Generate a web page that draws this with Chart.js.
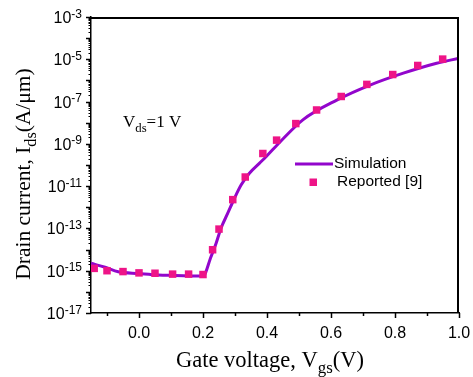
<!DOCTYPE html>
<html>
<head>
<meta charset="utf-8">
<script src="https://cdn.jsdelivr.net/npm/chart.js@4/dist/chart.umd.min.js"></script>
<style>
  html, body { margin: 0; padding: 0; background: #fff; }
  #wrap { width: 473px; height: 377px; }
</style>
</head>
<body>
<div id="wrap"><canvas id="idsChart" width="473" height="377"></canvas></div>
<script>
// simulated transfer curve, Vgs (V) vs Ids (A/um)
const simVgs = [-0.15, -0.106, -0.065, 0.0, 0.06, 0.1, 0.2, 0.225, 0.241, 0.256, 0.277, 0.298, 0.319, 0.345, 0.376, 0.397, 0.44, 0.513, 0.618, 0.722, 0.826, 0.93, 1.0];
const simIds = [2.24e-15, 1.45e-15, 8.9e-16, 7.4e-16, 6.3e-16, 6.0e-16, 5.6e-16, 4.6e-15, 2.0e-14, 1.0e-13, 5.1e-13, 2.6e-12, 1.12e-11, 4.1e-11, 1.2e-10, 2.45e-10, 1.2e-9, 1.4e-8, 1.17e-7, 6.0e-7, 2.2e-6, 6.5e-6, 1.12e-5];

// reported data points [9]
const refVgs = [-0.14, -0.10, -0.05, 0.0, 0.05, 0.105, 0.155, 0.20, 0.23, 0.25, 0.293, 0.332, 0.387, 0.43, 0.49, 0.555, 0.632, 0.712, 0.793, 0.871, 0.949];
const refIds = [1.29e-15, 1.0e-15, 9.1e-16, 7.9e-16, 7.6e-16, 6.9e-16, 6.9e-16, 6.6e-16, 9.8e-15, 9.3e-14, 2.3e-12, 2.7e-11, 3.5e-10, 1.5e-9, 9.1e-9, 4.0e-8, 1.74e-7, 6.5e-7, 1.9e-6, 5.1e-6, 1.02e-5];

// axis ticks
const xMajorTicks = [0.0, 0.2, 0.4, 0.6, 0.8, 1.0];
const xMinorTicks = [-0.1, 0.1, 0.3, 0.5, 0.7, 0.9];
const yDecades = [-17, -16, -15, -14, -13, -12, -11, -10, -9, -8, -7, -6, -5, -4, -3];
const yLabelExps = [-17, -15, -13, -11, -9, -7, -5, -3];

const LINE_COLOR = '#9206cc';
const MARK_COLOR = '#ee1487';
const SANS = '"Liberation Sans", Arial, sans-serif';
const SERIF = '"Liberation Serif", "Times New Roman", serif';

// text with a subscript piece: parts = [[text, isSub], ...]
function drawRich(ctx, parts, x, y, size, family) {
    let cx = x;
    parts.forEach(([txt, sub]) => {
        const fs = sub ? size * 0.75 : size;
        ctx.font = fs + 'px ' + family;
        ctx.fillText(txt, cx, sub ? y + size * 0.28 : y);
        cx += ctx.measureText(txt).width;
    });
    return cx - x;
}
function richWidth(ctx, parts, size, family) {
    let w = 0;
    parts.forEach(([txt, sub]) => {
        ctx.font = (sub ? size * 0.75 : size) + 'px ' + family;
        w += ctx.measureText(txt).width;
    });
    return w;
}

const decorPlugin = {
    id: 'decor',
    afterDraw(chart) {
        const ctx = chart.ctx;
        const ca = chart.chartArea;
        const xs = chart.scales.x;
        const ys = chart.scales.y;
        ctx.save();
        ctx.setLineDash([]);
        ctx.strokeStyle = '#000';
        ctx.fillStyle = '#000';

        // closing box on top and right
        ctx.lineWidth = 2;
        ctx.beginPath();
        ctx.moveTo(ca.left, ca.top + 1);
        ctx.lineTo(ca.right - 1, ca.top + 1);
        ctx.lineTo(ca.right - 1, ca.bottom);
        ctx.stroke();

        // y ticks, log decades with minor 2..9
        yDecades.forEach(n => {
            for (let k = 1; k <= 9; k++) {
                if (n === -3 && k > 1) break;
                const py = Math.round(ys.getPixelForValue(k * Math.pow(10, n))) + 0.5;
                const len = k === 1 ? 5 : 2.5;
                ctx.lineWidth = k === 1 ? 1.5 : 1;
                ctx.beginPath();
                ctx.moveTo(ca.left, py);
                ctx.lineTo(ca.left - len, py);
                ctx.stroke();
            }
        });

        // y labels 10^n
        ctx.textAlign = 'left';
        ctx.textBaseline = 'alphabetic';
        yLabelExps.forEach(n => {
            const py = ys.getPixelForValue(Math.pow(10, n));
            const exp = String(n);
            ctx.font = '12px ' + SANS;
            const ew = ctx.measureText(exp).width;
            ctx.font = '16px ' + SANS;
            const bw = ctx.measureText('10').width;
            const right = 82;
            ctx.fillText('10', right - ew - bw, py + 6);
            ctx.font = '12px ' + SANS;
            ctx.fillText(exp, right - ew, py + 0.5);
        });

        // x ticks
        ctx.lineWidth = 1.5;
        xMajorTicks.concat(xMinorTicks).forEach(v => {
            const px = Math.round(xs.getPixelForValue(v)) + 0.5;
            const len = xMajorTicks.includes(v) ? 5 : 3;
            ctx.beginPath();
            ctx.moveTo(px, ca.bottom);
            ctx.lineTo(px, ca.bottom + len);
            ctx.stroke();
        });
        ctx.font = '16px ' + SANS;
        ctx.textAlign = 'center';
        xMajorTicks.forEach(v => {
            ctx.fillText(v.toFixed(1), xs.getPixelForValue(v), 338);
        });

        // axis titles
        ctx.textAlign = 'left';
        const xTitle = [['Gate voltage, V', false], ['gs', true], ['(V)', false]];
        const xw = richWidth(ctx, xTitle, 22.5, SERIF);
        drawRich(ctx, xTitle, 270 - xw / 2, 367, 22.5, SERIF);

        const yTitle = [['Drain current, I', false], ['ds', true], ['(A/\u03bcm)', false]];
        const yw = richWidth(ctx, yTitle, 21.5, SERIF);
        ctx.save();
        ctx.translate(30, 174);
        ctx.rotate(-Math.PI / 2);
        drawRich(ctx, yTitle, -yw / 2, 0, 21.5, SERIF);
        ctx.restore();

        // bias annotation
        drawRich(ctx, [['V', false], ['ds', true], ['=1 V', false]], 123, 127, 17, SERIF);

        // legend
        ctx.strokeStyle = LINE_COLOR;
        ctx.lineWidth = 3;
        ctx.beginPath();
        ctx.moveTo(295, 164);
        ctx.lineTo(333, 164);
        ctx.stroke();
        ctx.fillStyle = MARK_COLOR;
        ctx.fillRect(309.5, 178.5, 7.5, 7.5);
        ctx.fillStyle = '#000';
        ctx.font = '15.5px ' + SANS;
        ctx.textBaseline = 'middle';
        ctx.fillText('Simulation', 334, 164);
        ctx.fillText('Reported [9]', 337, 182);
        ctx.restore();
    }
};

new Chart(document.getElementById('idsChart'), {
    type: 'scatter',
    data: {
        datasets: [
            {
                label: 'Reported [9]',
                data: refVgs.map((v, i) => ({ x: v, y: refIds[i] })),
                pointStyle: 'rect',
                pointRadius: 5.3,
                pointBorderWidth: 0,
                backgroundColor: MARK_COLOR,
                borderColor: MARK_COLOR,
                order: 1
            },
            {
                label: 'Simulation',
                data: simVgs.map((v, i) => ({ x: v, y: simIds[i] })),
                showLine: true,
                borderColor: LINE_COLOR,
                borderWidth: 3,
                pointRadius: 0,
                cubicInterpolationMode: 'monotone',
                order: 2
            }
        ]
    },
    options: {
        responsive: false,
        animation: false,
        layout: { padding: { top: 17, right: 14, left: 0, bottom: 0 } },
        plugins: {
            legend: { display: false },
            tooltip: { enabled: false }
        },
        scales: {
            x: {
                type: 'linear',
                min: -0.15,
                max: 1.0,
                grid: { display: false },
                ticks: { display: false },
                border: { display: true, color: '#000', width: 1.5 },
                afterFit: (scale) => { scale.height = 64; }
            },
            y: {
                type: 'logarithmic',
                min: 1e-17,
                max: 1e-3,
                grid: { display: false },
                ticks: { display: false },
                border: { display: true, color: '#000', width: 1.5 },
                afterFit: (scale) => { scale.width = 91; }
            }
        }
    },
    plugins: [decorPlugin]
});
</script>
</body>
</html>
